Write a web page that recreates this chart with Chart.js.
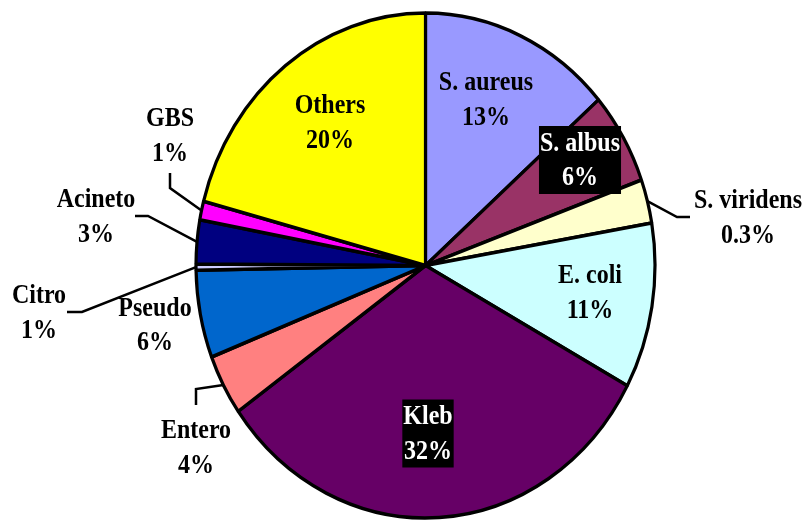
<!DOCTYPE html>
<html>
<head>
<meta charset="utf-8">
<script src="https://cdn.jsdelivr.net/npm/chart.js@4.4.0/dist/chart.umd.min.js"></script>
<style>
  html, body { margin: 0; padding: 0; background: #fff; }
  #wrap { width: 807px; height: 520px; }
</style>
</head>
<body>
<div id="wrap"><canvas id="pie" width="807" height="520"></canvas></div>
<script>
// data (share of the whole, clockwise from 12 o'clock)
var labels = ['S. aureus', 'S. albus', 'S. viridens', 'E. coli', 'Kleb', 'Entero', 'Pseudo', 'Citro', 'Acineto', 'GBS', 'Others'];
var shares = [13.6, 5.9, 2.8, 10.6, 32.3, 3.9, 5.6, 0.4, 2.8, 1.2, 20.9];
// percentage texts as printed on the chart
var pctText = ['13%', '6%', '0.3%', '11%', '32%', '4%', '6%', '1%', '3%', '1%', '20%'];
var colours = ['#9999ff', '#993366', '#ffffcc', '#ccffff', '#660066', '#ff8080', '#0066cc', '#ccccff', '#000080', '#ff00ff', '#ffff00'];

// the original pie is a bit taller than wide
var SY = 1.1;

// where the label blocks sit (page px), optional black box and leader line
var place = [
    { x: 486, y: 99.5 },
    { x: 580, y: 160, box: true },
    { x: 748, y: 217.5, leader: [[677, 217], [690, 217]] },
    { x: 590, y: 292.5 },
    { x: 428, y: 433.5, box: true },
    { x: 196, y: 447.5, leader: [[196, 389], [196, 405]] },
    { x: 155, y: 325 },
    { x: 39, y: 312.5, leader: [[82, 312], [67, 312]] },
    { x: 96, y: 216.5, leader: [[148, 216], [135, 216]] },
    { x: 170, y: 135.5, leader: [[170, 188], [170, 173]] },
    { x: 330, y: 122.5 }
];

var stretch = {
    id: 'stretch',
    beforeDraw: function (chart) {
        chart.ctx.save();
        chart.ctx.scale(1, SY);
    },
    afterDatasetsDraw: function (chart) {
        chart.ctx.restore();
    },
    afterDraw: function (chart) {
        var ctx = chart.ctx;
        var meta = chart.getDatasetMeta(0);
        ctx.save();
        ctx.font = 'bold 24px "Liberation Serif", "Times New Roman", serif';
        ctx.textAlign = 'center';
        ctx.textBaseline = 'middle';
        meta.data.forEach(function (arc, i) {
            var p = place[i];
            if (p.leader) {
                var mid = (arc.startAngle + arc.endAngle) / 2;
                var sx = arc.x + Math.cos(mid) * arc.outerRadius;
                var sy = (arc.y + Math.sin(mid) * arc.outerRadius) * SY;
                ctx.beginPath();
                ctx.moveTo(sx, sy);
                ctx.lineTo(p.leader[0][0], p.leader[0][1]);
                ctx.lineTo(p.leader[1][0], p.leader[1][1]);
                ctx.lineWidth = 2.5;
                ctx.strokeStyle = '#000';
                ctx.stroke();
            }
            var lines = [labels[i], pctText[i]];
            var gap = 34.5;
            if (p.box) {
                var w = Math.max(ctx.measureText(lines[0]).width, ctx.measureText(lines[1]).width) + 2;
                ctx.fillStyle = '#000';
                ctx.fillRect(p.x - w / 2, p.y - 34, w, 68);
            }
            ctx.fillStyle = p.box ? '#fff' : '#000';
            lines.forEach(function (t, j) {
                ctx.save();
                ctx.translate(p.x, p.y + (j - 0.5) * gap);
                ctx.scale(1, SY);
                ctx.fillText(t, 0, 1);
                ctx.restore();
            });
        });
        ctx.restore();
    }
};

var ctx = document.getElementById('pie').getContext('2d');
var chart = new Chart(ctx, {
    type: 'pie',
    data: {
        labels: labels,
        datasets: [{
            data: shares,
            backgroundColor: colours,
            borderColor: '#000',
            borderWidth: 3.2
        }]
    },
    options: {
        responsive: false,
        animation: false,
        devicePixelRatio: 1,
        radius: 229.5,
        layout: { padding: { left: 196, right: 152, top: 11.9, bottom: 49.1 } },
        plugins: {
            legend: { display: false },
            tooltip: { enabled: false }
        },
        events: []
    },
    plugins: [stretch]
});
</script>
</body>
</html>
